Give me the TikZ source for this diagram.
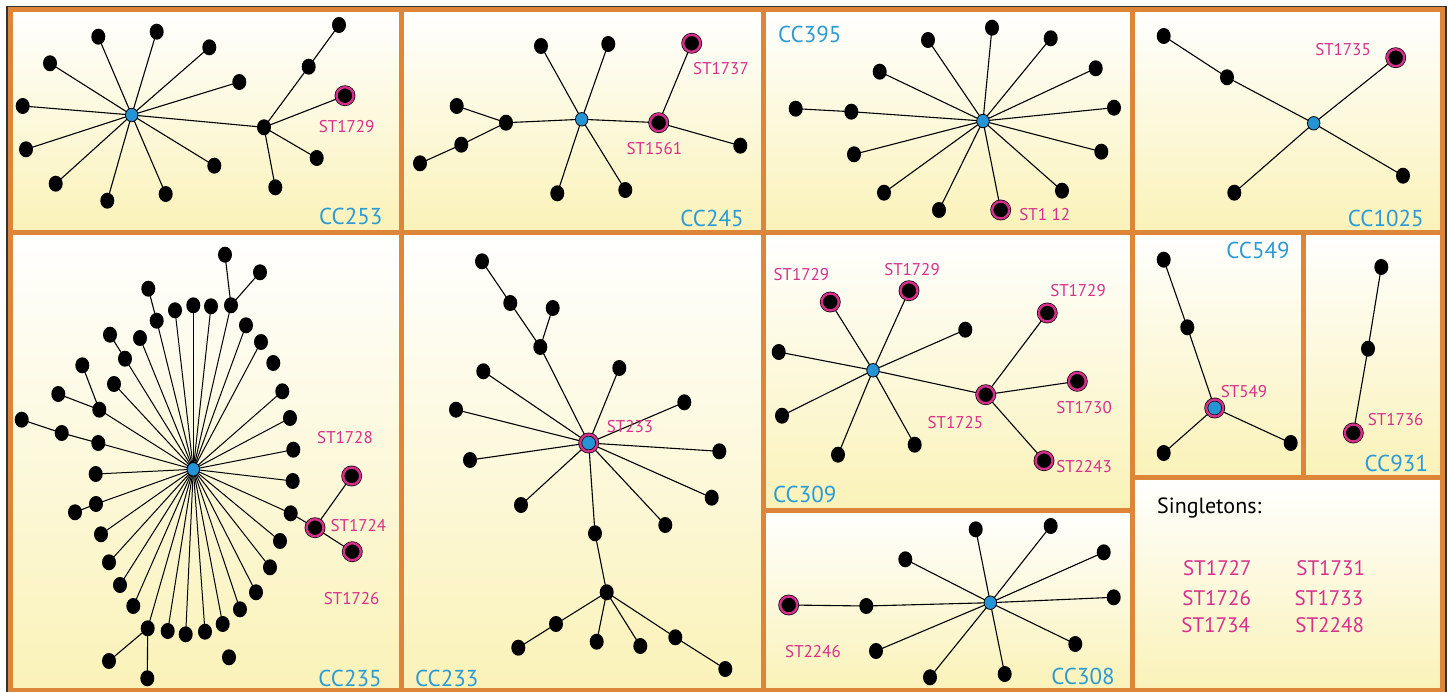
\documentclass[tikz,border=0pt]{standalone}
\usepackage{fontspec}
\setmainfont{PT Sans}
\usetikzlibrary{shapes.geometric}
\pgfdeclarelayer{bg}\pgfdeclarelayer{edges}\pgfsetlayers{bg,edges,main}
\definecolor{frameor}{HTML}{DD863A}
\definecolor{ccblue}{HTML}{2B9BD6}
\definecolor{stmag}{HTML}{D6308C}
\definecolor{nodeblue}{HTML}{2494D4}
\definecolor{panelyel}{HTML}{FAF2B8}
\tikzset{
 bk/.style={ellipse, fill=black, minimum width=14pt, minimum height=16pt, inner sep=0pt},
 hubn/.style={ellipse, fill=nodeblue, draw=black, line width=0.8pt, minimum width=12.5pt, minimum height=13.5pt, inner sep=0pt},
 mg/.style={circle, fill=black, draw=black, line width=0.7pt, double=stmag, double distance=2.4pt, minimum size=17pt, inner sep=0pt},
 mgb/.style={mg, fill=nodeblue},
 edge/.style={line width=1.1pt, black},
 cclab/.style={text=ccblue, inner sep=0pt, font=\fontsize{23}{25}\selectfont},
 stlab/.style={text=stmag, inner sep=0pt, font=\fontsize{17}{19}\selectfont},
 sglab/.style={text=stmag, inner sep=0pt, font=\fontsize{21}{23}\selectfont},
 panel/.style={top color=white, bottom color=panelyel},
 frame/.style={draw=frameor, line width=5pt},
}
\begin{document}
\begin{tikzpicture}[x=1pt,y=-1pt]
\useasboundingbox (0,0) rectangle (1448,692);
\begin{pgfonlayer}{bg}
\fill[white] (0,0) rectangle (1448,692);
\shade[panel] (10.5,10) rectangle (401,232.5);
\shade[panel] (401,10) rectangle (763,232.5);
\shade[panel] (763,10) rectangle (1132,232.5);
\shade[panel] (1132,10) rectangle (1442,232.5);
\shade[panel] (10.5,232.5) rectangle (401,690);
\shade[panel] (401,232.5) rectangle (763,690);
\shade[panel] (763,232.5) rectangle (1132,510);
\shade[panel] (763,510) rectangle (1132,690);
\shade[panel] (1132,232.5) rectangle (1303,477);
\shade[panel] (1303,232.5) rectangle (1442,477);
\shade[panel] (1132,477) rectangle (1442,690);
\draw[black!80, line width=1.2pt] (7,7) rectangle (1446,694);
\draw[frame] (10.5,10) rectangle (1442,690);
\draw[frame] (10.5,232.5) -- (1442,232.5);
\draw[frame] (401,10) -- (401,690);
\draw[frame] (763,10) -- (763,690);
\draw[frame] (1132,10) -- (1132,690);
\draw[frame] (763,510) -- (1132,510);
\draw[frame] (1132,477) -- (1442,477);
\draw[frame] (1303,232.5) -- (1303,477);
\end{pgfonlayer}

% ---------- CC253 ----------
\node[hubn] (a0) at (131.7,115) {};
\node[bk] (a1) at (98.3,36.7) {};
\node[bk] (a2) at (156.7,31.7) {};
\node[bk] (a3) at (209.3,47.3) {};
\node[bk] (a4) at (239.3,82) {};
\node[bk] (a5) at (50,63.3) {};
\node[bk] (a6) at (22.7,106) {};
\node[bk] (a7) at (26,149.3) {};
\node[bk] (a8) at (55.7,183.7) {};
\node[bk] (a9) at (107.3,200.7) {};
\node[bk] (a10) at (165.7,194) {};
\node[bk] (a11) at (214.3,165.7) {};
\node[bk] (ah) at (264,127.3) {};
\node[bk] (ah1) at (308.7,66.7) {};
\node[bk] (ah2) at (339,25) {};
\node[mg] (am) at (345,95.7) {};
\node[bk] (ah3) at (316.7,158) {};
\node[bk] (ah4) at (275.3,187.3) {};
\node[stlab] (al1) at (346.7,126.7) {ST1729};
\node[cclab] (al2) at (350.7,216.7) {CC253};
\begin{pgfonlayer}{edges}
\foreach \n in {a1,a2,a3,a4,a5,a6,a7,a8,a9,a10,a11,ah} \draw[edge] (a0.center) -- (\n.center);
\draw[edge] (ah.center) -- (ah1.center) -- (ah2.center);
\foreach \n in {am,ah3,ah4} \draw[edge] (ah.center) -- (\n.center);
\end{pgfonlayer}

% ---------- CC245 ----------
\node[hubn] (b0) at (581.7,119.3) {};
\node[bk] (b1) at (541,46) {};
\node[bk] (b2) at (608.3,44) {};
\node[bk] (b3) at (557.3,193.3) {};
\node[bk] (b4) at (625.3,190) {};
\node[bk] (bh) at (506,122.7) {};
\node[bk] (b5) at (456.7,106) {};
\node[bk] (b6) at (461.3,144.7) {};
\node[bk] (b7) at (420,163.3) {};
\node[mg] (bm1) at (658.7,122.7) {};
\node[mg] (bm2) at (691.7,43.3) {};
\node[bk] (b8) at (740.3,145.7) {};
\node[stlab] (bl1) at (721,69) {ST1737};
\node[stlab] (bl2) at (654.3,149) {ST1561};
\node[cclab] (bl3) at (712,218.3) {CC245};
\begin{pgfonlayer}{edges}
\foreach \n in {b1,b2,b3,b4,bh,bm1} \draw[edge] (b0.center) -- (\n.center);
\draw[edge] (bh.center) -- (b5.center);
\draw[edge] (bh.center) -- (b6.center) -- (b7.center);
\draw[edge] (bm1.center) -- (bm2.center);
\draw[edge] (bm1.center) -- (b8.center);
\end{pgfonlayer}

% ---------- CC395 ----------
\node[hubn] (c0) at (983,121) {};
\node[bk] (c1) at (928,40) {};
\node[bk] (c2) at (992,27.7) {};
\node[bk] (c3) at (1050.7,38.3) {};
\node[bk] (c4) at (1095.7,68.3) {};
\node[bk] (c5) at (1114,107.7) {};
\node[bk] (c6) at (1101.3,151.7) {};
\node[bk] (c7) at (1062,190.7) {};
\node[mg] (cm) at (1000.7,210) {};
\node[bk] (c8) at (939,210) {};
\node[bk] (c9) at (884,192.7) {};
\node[bk] (c10) at (854,154.3) {};
\node[bk] (c11) at (879.7,71.7) {};
\node[bk] (c12) at (851.3,111.7) {};
\node[bk] (c13) at (795.7,108.7) {};
\node[stlab] (cl1) at (1044.7,215) {ST1 12};
\node[cclab] (cl2) at (809.7,34) {CC395};
\begin{pgfonlayer}{edges}
\foreach \n in {c1,c2,c3,c4,c5,c6,c7,cm,c8,c9,c10,c11,c12} \draw[edge] (c0.center) -- (\n.center);
\draw[edge] (c12.center) -- (c13.center);
\end{pgfonlayer}

% ---------- CC1025 ----------
\node[hubn] (d0) at (1313.7,123.3) {};
\node[bk] (d1) at (1227,77.3) {};
\node[bk] (d2) at (1163.7,36) {};
\node[mg] (dm) at (1395.7,57.7) {};
\node[bk] (d3) at (1403,175.7) {};
\node[bk] (d4) at (1234.3,192.7) {};
\node[stlab] (dl1) at (1343,50) {ST1735};
\node[cclab] (dl2) at (1385.7,218.3) {CC1025};
\begin{pgfonlayer}{edges}
\draw[edge] (d0.center) -- (d1.center) -- (d2.center);
\foreach \n in {dm,d3,d4} \draw[edge] (d0.center) -- (\n.center);
\end{pgfonlayer}

% ---------- CC235 ----------
\node[hubn] (e0) at (193.3,469.3) {};
\node[bk] (e1) at (231,305.3) {};
\node[bk] (e1a) at (225,254.7) {};
\node[bk] (e1b) at (260,272.3) {};
\node[bk] (e2) at (211,306.3) {};
\node[bk] (e3) at (193.3,305.3) {};
\node[bk] (e4) at (175,310.3) {};
\node[bk] (e5) at (156.7,320.7) {};
\node[bk] (e5a) at (148.3,288.7) {};
\node[bk] (e6) at (140,338) {};
\node[bk] (e7) at (125,358.7) {};
\node[bk] (e7a) at (110,334.7) {};
\node[bk] (e8) at (114,384) {};
\node[bk] (e9) at (99.3,409.7) {};
\node[bk] (e9a) at (82.3,365.3) {};
\node[bk] (e9b) at (58.3,394) {};
\node[bk] (e10) at (98.3,443) {};
\node[bk] (e10a) at (61.7,433) {};
\node[bk] (e10b) at (21.7,419.7) {};
\node[bk] (e11) at (246,325.3) {};
\node[bk] (e12) at (261,342) {};
\node[bk] (eiso1) at (273.3,363) {};
\node[bk] (e13) at (282.3,391.3) {};
\node[bk] (e14) at (290,418) {};
\node[bk] (e15) at (293.3,449.7) {};
\node[bk] (e16) at (292.7,481) {};
\node[bk] (e17) at (290.7,513.3) {};
\node[mg] (em1) at (315,527.7) {};
\node[mg] (em2) at (351.7,476) {};
\node[mg] (em3) at (352.3,551.7) {};
\node[bk] (e18) at (95.7,474) {};
\node[bk] (e19) at (96,504) {};
\node[bk] (e19a) at (75,512.3) {};
\node[bk] (e20) at (101,534.3) {};
\node[bk] (e21) at (109,562.3) {};
\node[bk] (e22) at (120,585) {};
\node[bk] (e23) at (133.3,606) {};
\node[bk] (e24) at (147.7,628.3) {};
\node[bk] (e24a) at (109,661) {};
\node[bk] (e24b) at (147.3,678.3) {};
\node[bk] (e25) at (167.7,631) {};
\node[bk] (e26) at (185.7,634.3) {};
\node[bk] (e27) at (205,631.7) {};
\node[bk] (e28) at (222.7,624) {};
\node[bk] (e29) at (240,609.3) {};
\node[bk] (e30) at (256,592.3) {};
\node[bk] (e31) at (270,567.3) {};
\node[bk] (e32) at (280,541) {};
\node[bk] (eiso2) at (229,657.3) {};
\node[stlab] (el1) at (345,438) {ST1728};
\node[stlab] (el2) at (358.3,526) {ST1724};
\node[stlab] (el3) at (351.7,598.3) {ST1726};
\node[cclab] (el4) at (350,678.3) {CC235};
\begin{pgfonlayer}{edges}
\foreach \n in {e1,e2,e3,e4,e5,e6,e7,e8,e9,e10,e11,e12,e13,e14,e15,e16,e17,e18,e19,e20,e21,e22,e23,e24,e25,e26,e27,e28,e29,e30,e31,e32} \draw[edge, line width=1pt] (e0.center) -- (\n.center);
\draw[edge] (e1.center) -- (e1a.center);
\draw[edge] (e1.center) -- (e1b.center);
\draw[edge] (e5.center) -- (e5a.center);
\draw[edge] (e7.center) -- (e7a.center);
\draw[edge] (e9.center) -- (e9a.center);
\draw[edge] (e9.center) -- (e9b.center);
\draw[edge] (e10.center) -- (e10a.center) -- (e10b.center);
\draw[edge] (e19.center) -- (e19a.center);
\draw[edge] (e17.center) -- (em1.center);
\draw[edge] (em1.center) -- (em2.center);
\draw[edge] (em1.center) -- (em3.center);
\draw[edge] (e24.center) -- (e24a.center);
\draw[edge] (e24.center) -- (e24b.center);
\end{pgfonlayer}

% ---------- CC233 ----------
\node[mgb] (f0) at (588.7,443) {};
\node[bk] (f1) at (540.3,347) {};
\node[bk] (f1a) at (510.3,303) {};
\node[bk] (f1b) at (482,261.3) {};
\node[bk] (f1c) at (552.7,308) {};
\node[bk] (f2) at (483.3,371.3) {};
\node[bk] (f3) at (456,409.7) {};
\node[bk] (f4) at (619.3,368) {};
\node[bk] (f5) at (684.3,402.3) {};
\node[bk] (f6) at (719.3,451.3) {};
\node[bk] (f7) at (470,460) {};
\node[bk] (f8) at (521,505) {};
\node[bk] (f9) at (711.7,497.7) {};
\node[bk] (f10) at (665.3,525) {};
\node[bk] (f11) at (595,533.3) {};
\node[bk] (fh) at (606.7,592.3) {};
\node[bk] (f12) at (556,624) {};
\node[bk] (f13) at (518.3,647.7) {};
\node[bk] (f14) at (596.7,641.7) {};
\node[bk] (f15) at (640.3,646) {};
\node[bk] (f16) at (675.3,637.3) {};
\node[bk] (f17) at (725.3,669) {};
\node[stlab] (fl1) at (630,426.3) {ST233};
\node[cclab] (fl2) at (446.7,678.3) {CC233};
\begin{pgfonlayer}{edges}
\foreach \n in {f1,f2,f3,f4,f5,f6,f7,f8,f9,f10,f11} \draw[edge] (f0.center) -- (\n.center);
\draw[edge] (f1.center) -- (f1a.center) -- (f1b.center);
\draw[edge] (f1.center) -- (f1c.center);
\draw[edge] (f11.center) -- (fh.center);
\draw[edge] (fh.center) -- (f12.center) -- (f13.center);
\draw[edge] (fh.center) -- (f14.center);
\draw[edge] (fh.center) -- (f15.center);
\draw[edge] (fh.center) -- (f16.center) -- (f17.center);
\end{pgfonlayer}

% ---------- CC309 ----------
\node[hubn] (g0) at (873,370.3) {};
\node[mg] (gm1) at (830.3,302) {};
\node[mg] (gm2) at (909,290.7) {};
\node[bk] (g1) at (965.3,329.7) {};
\node[bk] (g2) at (778.7,352) {};
\node[bk] (g3) at (782,415.7) {};
\node[bk] (g4) at (838,454.7) {};
\node[bk] (g5) at (914.7,444.7) {};
\node[mg] (gm3) at (985.7,394.7) {};
\node[mg] (gm4) at (1047.3,313) {};
\node[mg] (gm5) at (1077.3,381.3) {};
\node[mg] (gm6) at (1044,460.7) {};
\node[stlab] (gl1) at (801.3,274.7) {ST1729};
\node[stlab] (gl2) at (912,269.7) {ST1729};
\node[stlab] (gl3) at (1078,290.7) {ST1729};
\node[stlab] (gl4) at (955.3,423) {ST1725};
\node[stlab] (gl5) at (1084,408) {ST1730};
\node[stlab] (gl6) at (1084,466.3) {ST2243};
\node[cclab] (gl7) at (804.7,494.7) {CC309};
\begin{pgfonlayer}{edges}
\foreach \n in {gm1,gm2,g1,g2,g3,g4,g5,gm3} \draw[edge] (g0.center) -- (\n.center);
\foreach \n in {gm4,gm5,gm6} \draw[edge] (gm3.center) -- (\n.center);
\end{pgfonlayer}

% ---------- CC308 ----------
\node[hubn] (h0) at (990.3,602.7) {};
\node[bk] (h1) at (975.7,529.3) {};
\node[bk] (h2) at (1050.7,526) {};
\node[bk] (h3) at (1103.7,552.3) {};
\node[bk] (h4) at (1113.7,597.3) {};
\node[bk] (h5) at (1075.3,644) {};
\node[bk] (h6) at (1004.7,674) {};
\node[bk] (h7) at (930,677.3) {};
\node[bk] (h8) at (876,651) {};
\node[bk] (h9) at (905.3,559.3) {};
\node[bk] (h10) at (866.3,606) {};
\node[mg] (hm) at (788.7,605) {};
\node[stlab] (hl1) at (813,651.7) {ST2246};
\node[cclab] (hl2) at (1083,676.7) {CC308};
\begin{pgfonlayer}{edges}
\foreach \n in {h1,h2,h3,h4,h5,h6,h7,h8,h9,h10} \draw[edge] (h0.center) -- (\n.center);
\draw[edge] (h10.center) -- (hm.center);
\end{pgfonlayer}

% ---------- CC549 ----------
\node[mgb] (i0) at (1214.7,408) {};
\node[bk] (i1) at (1187.3,327.3) {};
\node[bk] (i2) at (1163.7,259.7) {};
\node[bk] (i3) at (1163.7,453) {};
\node[bk] (i4) at (1290.7,443) {};
\node[stlab] (il1) at (1244,391.3) {ST549};
\node[cclab] (il2) at (1258,250.7) {CC549};
\begin{pgfonlayer}{edges}
\draw[edge] (i0.center) -- (i1.center) -- (i2.center);
\draw[edge] (i0.center) -- (i3.center);
\draw[edge] (i0.center) -- (i4.center);
\end{pgfonlayer}

% ---------- CC931 ----------
\node[bk] (j1) at (1381.3,267) {};
\node[bk] (j2) at (1368,348.7) {};
\node[mg] (jm) at (1353.3,433) {};
\node[stlab] (jl1) at (1395.7,419.7) {ST1736};
\node[cclab] (jl2) at (1396.3,463) {CC931};
\begin{pgfonlayer}{edges}
\draw[edge] (j1.center) -- (j2.center) -- (jm.center);
\end{pgfonlayer}

% ---------- Singletons ----------
\node[inner sep=0pt, anchor=west, font=\fontsize{22}{24}\selectfont] (sg) at (1157,508.3) {Singletons:};
\node[sglab] (s1) at (1217.3,567.7) {ST1727};
\node[sglab] (s2) at (1330.7,567.7) {ST1731};
\node[sglab] (s3) at (1216.7,597.7) {ST1726};
\node[sglab] (s4) at (1329,597.7) {ST1733};
\node[sglab] (s5) at (1215.7,625) {ST1734};
\node[sglab] (s6) at (1329.7,625) {ST2248};
\end{tikzpicture}
\end{document}
